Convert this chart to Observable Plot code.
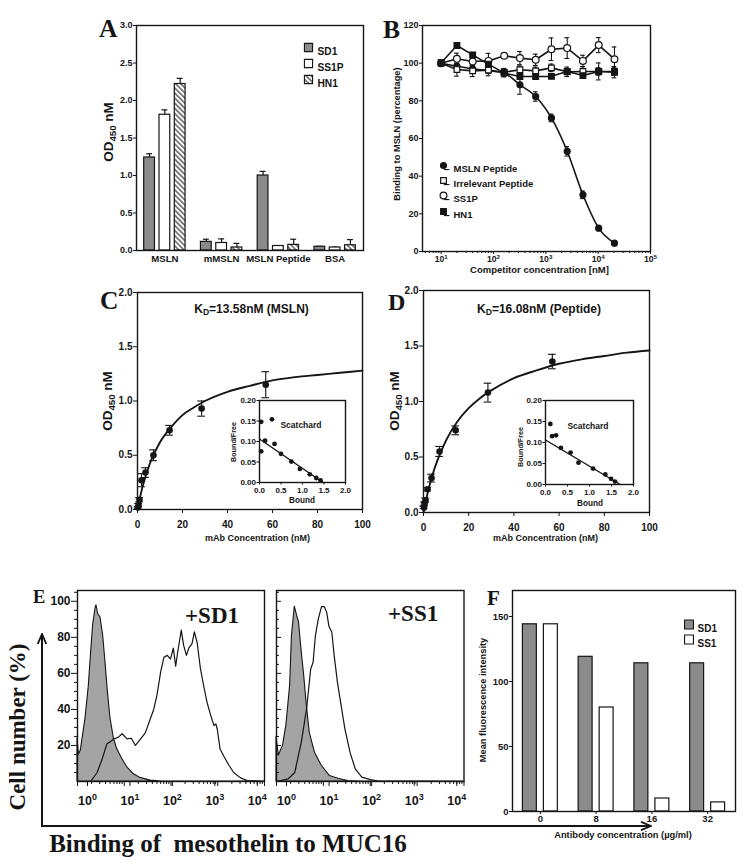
<!DOCTYPE html>
<html><head><meta charset="utf-8">
<script src="https://cdn.jsdelivr.net/npm/d3@7"></script>
<script src="https://cdn.jsdelivr.net/npm/@observablehq/plot@0.6"></script>
<style>
body{margin:0;background:#fff;}
#root{position:relative;width:754px;height:867px;overflow:hidden;background:#fff;}
</style></head><body>
<svg width="0" height="0" style="position:absolute;left:0;top:0">
<defs>
<pattern id="hatch" patternUnits="userSpaceOnUse" width="3.6" height="3.6" patternTransform="rotate(-45)">
<rect width="3.6" height="3.6" fill="#fff"/><line x1="0.9" y1="0" x2="0.9" y2="3.6" stroke="#222" stroke-width="1.1"/>
</pattern>
</defs></svg>
<div id="root"></div>
<script>
// ================= DATA =================
// Panel A
const catsA = ["MSLN", "mMSLN", "MSLN Peptide", "BSA"];
const seriesNamesA = ["SD1", "SS1P", "HN1"];
const sd1A = [1.24, 0.115, 1.00, 0.05];
const sd1AErr = [0.05, 0.035, 0.055, 0.005];
const ss1pA = [1.81, 0.10, 0.06, 0.04];
const ss1pAErr = [0.065, 0.055, 0.005, 0.005];
const hn1A = [2.22, 0.04, 0.075, 0.07];
const hn1AErr = [0.075, 0.055, 0.075, 0.075];
const yTicksA = [0, 0.5, 1.0, 1.5, 2.0, 2.5, 3.0];

// Panel B
const seriesNamesB = ["MSLN Peptide", "Irrelevant Peptide", "SS1P", "HN1"];
const concB = [10, 20, 40, 80, 160, 320, 640, 1280, 2560, 5120, 10240, 20480];
const mslnB = [100, 98.4, 97, 96, 94.7, 88.5, 82.3, 70.9, 53.2, 30.1, 12.4, 4.4];
const mslnBErr = [1, 1, 1, 1, 1.5, 5, 2.5, 2, 2.5, 2, 1, 0.8];
const irrelB = [100, 96.6, 95.9, 96.3, 95.2, 96.5, 95.9, 97.5, 95.4, 95.6, 95.6, 95.6];
const irrelBErr = [1, 3.5, 3, 3, 2, 2, 2, 2, 2.5, 2.5, 2, 2];
const ss1pB = [100, 102.3, 100.9, 101.2, 103.9, 102.7, 101.8, 107.4, 108, 101.2, 109.6, 102.1];
const ss1pBErr = [1, 3, 2, 4, 1, 3.5, 3, 6, 5.5, 3, 4, 6.5];
const hn1B = [100.2, 109.4, 104.4, 99.5, 94.7, 92.9, 92.9, 93, 95.6, 93.4, 95.6, 95.2];
const hn1BErr = [1, 1, 1, 1.5, 2, 1, 1, 1, 1.5, 1.5, 4.5, 3];
const yTicksB = [0, 20, 40, 60, 80, 100, 120];
const xTicksB = [10, 100, 1000, 10000, 100000];

// Panels C and D (mAb concentration, nM)
const concCD = [0.22, 0.45, 0.89, 1.78, 3.56, 7.1, 14.25, 28.5, 57];
const odC = [0.02, 0.04, 0.09, 0.27, 0.34, 0.50, 0.73, 0.93, 1.15];
const odCErr = [0.01, 0.015, 0.02, 0.06, 0.045, 0.05, 0.045, 0.07, 0.12];
const odD = [0.045, 0.08, 0.11, 0.21, 0.31, 0.55, 0.74, 1.08, 1.36];
const odDErr = [0.01, 0.015, 0.02, 0.015, 0.035, 0.045, 0.04, 0.085, 0.065];
const fitX = [0, 1, 2, 4, 6, 8, 10, 15, 20, 25, 30, 40, 50, 60, 70, 80, 90, 100];
const fitC = [0, 0.10, 0.19, 0.33, 0.45, 0.54, 0.62, 0.76, 0.87, 0.94, 1.00, 1.085, 1.14, 1.19, 1.22, 1.24, 1.26, 1.28];
const fitD = [0, 0.10, 0.19, 0.34, 0.46, 0.56, 0.65, 0.82, 0.94, 1.03, 1.10, 1.21, 1.28, 1.34, 1.38, 1.41, 1.44, 1.46];
const yTicksCD = [0, 0.5, 1.0, 1.5, 2.0];
const xTicksCD = [0, 20, 40, 60, 80, 100];
const titleC = "K_{D}=13.58nM (MSLN)";
const titleD = "K_{D}=16.08nM (Peptide)";

// Scatchard insets
const scatBoundC = [0.04, 0.29, 0.13, 0.04, 0.35, 0.50, 0.74, 0.94, 1.17, 1.32, 1.42];
const scatBFC = [0.148, 0.154, 0.102, 0.076, 0.094, 0.070, 0.051, 0.033, 0.020, 0.011, 0.005];
const scatLineBoundC = [0, 1.48];
const scatLineBFC = [0.106, 0];
const scatBoundD = [0.11, 0.15, 0.24, 0.35, 0.57, 0.75, 1.08, 1.36, 1.49, 1.58];
const scatBFD = [0.144, 0.115, 0.117, 0.087, 0.076, 0.052, 0.038, 0.024, 0.0135, 0.007];
const scatLineBoundD = [0, 1.7];
const scatLineBFD = [0.106, 0];
const scatXTicks = [0, 0.5, 1.0, 1.5, 2.0];
const scatYTicks = [0, 0.05, 0.10, 0.15, 0.20];

// Panel E histograms (x = log10 fluorescence, y = % of max)
const ctrlSD1Log = [0, 0.03, 0.07, 0.171, 0.242, 0.292, 0.335, 0.385, 0.406, 0.442, 0.492, 0.549, 0.599, 0.649, 0.706, 0.777, 0.848, 0.955, 1.062, 1.205, 1.348, 1.561, 1.8, 4];
const ctrlSD1Pct = [24, 15, 17, 35, 53, 72, 87, 96, 97.8, 93, 91, 81, 66, 50, 35, 24, 18, 12.6, 8, 4, 2, 0.5, 0, 0];
const sd1Log = [0, 0.28, 0.42, 0.53, 0.63, 0.70, 0.78, 0.87, 0.955, 1.06, 1.15, 1.24, 1.35, 1.45, 1.56, 1.63, 1.70, 1.78, 1.85, 1.92, 1.99, 2.05, 2.10, 2.15, 2.22, 2.27, 2.33, 2.38, 2.45, 2.50, 2.56, 2.63, 2.70, 2.77, 2.85, 2.92, 2.96, 2.99, 3.05, 3.13, 3.24, 3.34, 3.49, 3.63, 4];
const sd1Pct = [0, 0, 5, 12.6, 21, 22, 23.7, 24.5, 26.5, 23.7, 24, 20, 23.7, 27, 35, 40, 48, 61, 69, 70, 68, 74, 64, 73, 84, 75.5, 70, 74, 76.5, 83, 77, 62.6, 53, 44, 36.7, 31, 32, 29, 18, 14, 9, 5, 2, 0.5, 0];
const ctrlSS1Log = [0, 0.05, 0.14, 0.21, 0.29, 0.33, 0.39, 0.44, 0.48, 0.53, 0.59, 0.64, 0.71, 0.82, 0.96, 1.14, 1.32, 1.53, 1.8, 4];
const ctrlSS1Pct = [24.6, 14.4, 20, 31, 53, 81, 97, 92, 88.5, 74, 59, 44, 27, 16, 9, 3, 1.5, 0.3, 0, 0];
const ss1Log = [0, 0.25, 0.39, 0.53, 0.64, 0.73, 0.78, 0.83, 0.89, 0.96, 1.02, 1.07, 1.12, 1.18, 1.23, 1.30, 1.38, 1.46, 1.57, 1.68, 1.82, 2.0, 2.17, 4];
const ss1Pct = [0, 1.5, 5, 22, 40, 62.6, 66, 81, 90, 97, 97, 94, 86, 83, 70, 55, 42, 29, 16, 7, 2.4, 1, 0.2, 0];
const yTicksE = [20, 40, 60, 80, 100];
const xTicksE = [1, 10, 100, 1000, 10000];

// Panel F
const concF = ["0", "8", "16", "32"];
const seriesNamesF = ["SD1", "SS1"];
const sd1F = [144, 119, 114, 114];
const ss1F = [144, 80, 10, 7];
const yTicksF = [0, 50, 100, 150];

// ================= HELPERS =================
const svgNS = "http://www.w3.org/2000/svg";
const root = document.getElementById("root");
const SANS = '"Liberation Sans", Arial, Helvetica, sans-serif';
const SERIF = '"Liberation Serif", "Times New Roman", serif';
const INK = "#151515";
const GRAY = "#8b8b8b";

function st(size) {
  return {fontFamily: SANS, fontWeight: "bold", fontSize: size + "px", background: "transparent", overflow: "visible", color: INK};
}
function rich(el) {
  el.querySelectorAll("text").forEach(t => {
    const s = t.textContent;
    if (!/[_^]\{/.test(s) || t.querySelector("tspan")) return;
    t.textContent = "";
    const re = /([_^])\{([^}]*)\}/g;
    let last = 0, m;
    while ((m = re.exec(s))) {
      if (m.index > last) t.appendChild(document.createTextNode(s.slice(last, m.index)));
      const ts = document.createElementNS(svgNS, "tspan");
      ts.setAttribute("baseline-shift", m[1] === "_" ? "-0.28em" : "0.55em");
      ts.setAttribute("font-size", "72%");
      ts.textContent = m[2];
      t.appendChild(ts);
      last = re.lastIndex;
    }
    if (last < s.length) t.appendChild(document.createTextNode(s.slice(last)));
  });
}
function place(svg, left, top) {
  svg.style.position = "absolute";
  svg.style.left = left + "px";
  svg.style.top = top + "px";
  rich(svg);
  root.appendChild(svg);
}
function logMinor(lo, hi) {
  const out = [];
  for (let k = -1; k < 6; k++) for (let m = 2; m <= 9; m++) {
    const v = m * Math.pow(10, k);
    if (v >= lo && v <= hi) out.push(v);
  }
  return out;
}
const pow = d => "10^{" + Math.round(Math.log10(d)) + "}";
const frame = () => Plot.frame({stroke: INK, strokeWidth: 1.4});

// ================= PANEL A =================
{
  const fills = [GRAY, "white", "url(#hatch)"];
  const vals = [sd1A, ss1pA, hn1A];
  const errs = [sd1AErr, ss1pAErr, hn1AErr];
  const shifts = [-15.3, 0, 15.3];
  const marks = [];
  seriesNamesA.forEach((name, s) => {
    const rows = catsA.map((c, i) => ({cat: c, v: vals[s][i], hi: vals[s][i] + errs[s][i]}));
    marks.push(Plot.ruleX(rows, {x: "cat", y1: "v", y2: "hi", dx: shifts[s], stroke: INK, strokeWidth: 1.2}));
    marks.push(Plot.tickY(rows, {x: "cat", y: "hi", dx: shifts[s], insetLeft: 25.4, insetRight: 25.4, stroke: INK, strokeWidth: 1.2}));
    marks.push(Plot.barY(rows, {x: "cat", y: "v", dx: shifts[s], insetLeft: 23, insetRight: 23, fill: fills[s], stroke: INK, strokeWidth: 1.2}));
    marks.push(Plot.dot([name], {frameAnchor: "top-left", dx: 172, dy: 22 + 16 * s, symbol: "square", r: 4.6, fill: fills[s], stroke: INK, strokeWidth: 1.1}));
    marks.push(Plot.text([name], {frameAnchor: "top-left", dx: 181, dy: 22 + 16 * s, text: d => d, textAnchor: "start", fontSize: 10.2, fontWeight: "bold", fill: INK}));
  });
  const svg = Plot.plot({
    width: 320, height: 290, marginLeft: 76, marginRight: 17, marginTop: 25, marginBottom: 40,
    style: st(9),
    x: {domain: catsA, padding: 0, round: false, label: null},
    y: {domain: [0, 3], label: null},
    marks: [
      ...marks,
      frame(),
      Plot.axisY({ticks: yTicksA, tickFormat: d3.format(".1f"), tickSize: 3, tickPadding: 1, label: null}),
      Plot.axisX({tickSize: 0, tickPadding: 5, fontSize: 9.6, label: null})
    ]
  });
  place(svg, 60, 0);
}

// ================= PANEL B =================
{
  const vals = [mslnB, irrelB, ss1pB, hn1B];
  const errs = [mslnBErr, irrelBErr, ss1pBErr, hn1BErr];
  const symbols = ["circle", "square", "circle", "square"];
  const fills = [INK, "white", "white", INK];
  const radii = [3.0, 3.2, 3.4, 3.2];
  const curves = ["monotone-x", "linear", "linear", "linear"];
  const rowsAll = seriesNamesB.map((n, s) => concB.map((c, i) => ({c, v: vals[s][i], lo: vals[s][i] - errs[s][i], hi: vals[s][i] + errs[s][i]})));
  const marks = [];
  rowsAll.forEach((rows, s) => marks.push(Plot.line(rows, {x: "c", y: "v", stroke: INK, strokeWidth: 1.6, curve: curves[s]})));
  rowsAll.forEach(rows => {
    marks.push(Plot.ruleX(rows, {x: "c", y1: "lo", y2: "hi", stroke: INK, strokeWidth: 1.1}));
    marks.push(Plot.ruleY(rows, {y: "hi", x1: d => d.c / 1.11, x2: d => d.c * 1.11, stroke: INK, strokeWidth: 1.1}));
    marks.push(Plot.ruleY(rows, {y: "lo", x1: d => d.c / 1.11, x2: d => d.c * 1.11, stroke: INK, strokeWidth: 1.1}));
  });
  rowsAll.forEach((rows, s) => marks.push(Plot.dot(rows, {x: "c", y: "v", symbol: symbols[s], r: radii[s], fill: fills[s], stroke: INK, strokeWidth: 1.2})));
  seriesNamesB.forEach((name, s) => {
    const dy = [140, 155, 170, 186][s];
    marks.push(Plot.text(["\u2013"], {frameAnchor: "top-left", dx: 21, dy, text: d => d, fontSize: 11, fill: INK}));
    marks.push(Plot.dot([name], {frameAnchor: "top-left", dx: 21, dy, symbol: symbols[s], r: radii[s], fill: fills[s], stroke: INK, strokeWidth: 1.2}));
    marks.push(Plot.text([name], {frameAnchor: "top-left", dx: 31, dy, text: d => d, textAnchor: "start", fontSize: 9.5, fontWeight: "bold", fill: INK}));
  });
  const svg = Plot.plot({
    width: 300, height: 290, marginLeft: 42, marginRight: 30, marginTop: 25, marginBottom: 39,
    style: st(9),
    x: {type: "log", domain: [4.4, 1e5], label: null},
    y: {domain: [0, 120], label: null},
    marks: [
      ...marks,
      frame(),
      Plot.axisY({ticks: yTicksB, tickSize: 3, tickPadding: 1, label: null}),
      Plot.axisX({ticks: logMinor(4.4, 1e5), tickSize: 2, tickFormat: () => "", label: null}),
      Plot.axisX({ticks: xTicksB, tickSize: 3, tickPadding: 1, fontSize: 8.6, tickFormat: pow, label: null})
    ]
  });
  place(svg, 380, 0);
}

// ================= PANELS C & D =================
function bindingPanel(od, err, fit, left, top, w, h, m) {
  const rows = concCD.map((c, i) => ({c, v: od[i], lo: od[i] - err[i], hi: od[i] + err[i]}));
  const fitRows = fitX.map((x, i) => ({x, y: fit[i]}));
  const svg = Plot.plot({
    width: w, height: h, marginLeft: m[0], marginRight: m[1], marginTop: m[2], marginBottom: m[3],
    style: st(10),
    x: {domain: [0, 100], label: null},
    y: {domain: [0, 2], label: null},
    marks: [
      Plot.line(fitRows, {x: "x", y: "y", stroke: INK, strokeWidth: 1.9, curve: "monotone-x"}),
      Plot.ruleX(rows, {x: "c", y1: "lo", y2: "hi", stroke: INK, strokeWidth: 1.1}),
      Plot.ruleY(rows, {y: "hi", x1: d => d.c - 1.7, x2: d => d.c + 1.7, stroke: INK, strokeWidth: 1.1}),
      Plot.ruleY(rows, {y: "lo", x1: d => d.c - 1.7, x2: d => d.c + 1.7, stroke: INK, strokeWidth: 1.1}),
      Plot.dot(rows, {x: "c", y: "v", r: 3.3, fill: INK}),
      frame(),
      Plot.axisY({ticks: yTicksCD, tickFormat: d3.format(".1f"), tickSize: 4, tickPadding: 1, label: null}),
      Plot.axisX({ticks: xTicksCD, tickSize: 4, tickPadding: 7, label: null})
    ]
  });
  place(svg, left, top);
}
bindingPanel(odC, odCErr, fitC, 60, 280, 320, 265, [77, 18, 12, 36]);
bindingPanel(odD, odDErr, fitD, 380, 280, 300, 270, [43, 31, 10, 38]);

function scatchard(bound, bf, lineB, lineBF, left, top, w, h, m) {
  const pts = bound.map((b, i) => ({b, f: bf[i]}));
  const ln = lineB.map((b, i) => ({b, f: lineBF[i]}));
  const svg = Plot.plot({
    width: w, height: h, marginLeft: m[0], marginRight: m[1], marginTop: m[2], marginBottom: m[3],
    style: st(8),
    x: {domain: [0, 2], label: null},
    y: {domain: [0, 0.2], label: null},
    marks: [
      Plot.frame({fill: "white"}),
      Plot.line(ln, {x: "b", y: "f", stroke: INK, strokeWidth: 1.4}),
      Plot.dot(pts, {x: "b", y: "f", r: 2.4, fill: INK}),
      frame(),
      Plot.axisY({ticks: scatYTicks, tickFormat: d3.format(".2f"), tickSize: 2.5, tickPadding: 1, label: null}),
      Plot.axisX({ticks: scatXTicks, tickFormat: d3.format(".1f"), tickSize: 2.5, tickPadding: 2, label: null})
    ]
  });
  place(svg, left, top);
}
scatchard(scatBoundC, scatBFC, scatLineBoundC, scatLineBFC, 222, 392, 128, 118, [37, 5, 8, 28]);
scatchard(scatBoundD, scatBFD, scatLineBoundD, scatLineBFD, 508, 392, 130, 120, [37, 5, 8, 28]);

// ================= PANEL E =================
function histogram(ctrlLog, ctrlPct, sampleLog, samplePct, left, width, m, withLabels) {
  const ctrl = ctrlLog.map((x, i) => ({x: Math.pow(10, x), y: ctrlPct[i]}));
  const samp = sampleLog.map((x, i) => ({x: Math.pow(10, x), y: samplePct[i]}));
  const minorY = d3.range(5, 106, 5).filter(v => v % 20 !== 0);
  const labelAxes = xTicksE.map((v, k) =>
    Plot.axisX({ticks: [v], tickSize: 5, tickPadding: 10, fontSize: 12.5, dx: 10 - 4.3 * k, tickFormat: pow, label: null}));
  const svg = Plot.plot({
    width, height: 235, marginLeft: m[0], marginRight: m[1], marginTop: 10, marginBottom: 34,
    style: st(12),
    x: {type: "log", domain: [1, 1e4], label: null},
    y: {domain: [0, 106], label: null},
    marks: [
      Plot.areaY(ctrl, {x: "x", y: "y", fill: "#a4a4a4", stroke: INK, strokeWidth: 1.1}),
      Plot.line(samp, {x: "x", y: "y", stroke: INK, strokeWidth: 1.2}),
      frame(),
      withLabels
        ? Plot.axisY({ticks: yTicksE, tickSize: 6, tickPadding: 1, fontSize: 12, label: null})
        : Plot.axisY({ticks: yTicksE, tickSize: -5, tickFormat: () => "", label: null}),
      Plot.axisY({ticks: minorY, tickSize: withLabels ? 3 : -3, tickFormat: () => "", label: null}),
      Plot.axisX({ticks: logMinor(1, 1e4), tickSize: 3, tickFormat: () => "", label: null}),
      Plot.axisX({ticks: xTicksE, tickSize: 5, tickFormat: () => "", label: null}),
      ...labelAxes
    ]
  });
  place(svg, left, 580);
}
histogram(ctrlSD1Log, ctrlSD1Pct, sd1Log, sd1Pct, 40, 230, [37, 6], true);
histogram(ctrlSS1Log, ctrlSS1Pct, ss1Log, ss1Pct, 270, 200, [6, 6.5], false);

// ================= PANEL F =================
{
  const vals = [sd1F, ss1F];
  const fills = [GRAY, "white"];
  const shifts = [-10.5, 10.5];
  const marks = [];
  seriesNamesF.forEach((name, s) => {
    const rows = concF.map((c, i) => ({c, v: vals[s][i]}));
    marks.push(Plot.barY(rows, {x: "c", y: "v", dx: shifts[s], insetLeft: 20.9, insetRight: 20.9, fill: fills[s], stroke: INK, strokeWidth: 1.2}));
    marks.push(Plot.dot([name], {frameAnchor: "top-left", dx: 176.5, dy: 34 + 15 * s, symbol: "square", r: 5, fill: fills[s], stroke: INK, strokeWidth: 1.1}));
    marks.push(Plot.text([name], {frameAnchor: "top-left", dx: 185, dy: 34 + 15 * s, text: d => d, textAnchor: "start", fontSize: 10, fontWeight: "bold", fill: INK}));
  });
  const svg = Plot.plot({
    width: 280, height: 270, marginLeft: 42, marginRight: 15, marginTop: 10, marginBottom: 39,
    style: st(9.5),
    x: {domain: concF, padding: 0, round: false, label: null},
    y: {domain: [0, 170], label: null},
    marks: [
      ...marks,
      frame(),
      Plot.axisY({ticks: yTicksF, tickSize: 3, tickPadding: 1, label: null}),
      Plot.axisX({tickSize: 3, tickPadding: 1, label: null})
    ]
  });
  place(svg, 470, 580);
}

// ================= OVERLAY: panel letters, titles, axis titles, arrows =================
{
  const ov = document.createElementNS(svgNS, "svg");
  ov.setAttribute("width", 754);
  ov.setAttribute("height", 867);
  ov.style.cssText = "position:absolute;left:0;top:0;overflow:visible;pointer-events:none";
  ov.innerHTML = '<defs><marker id="arr" viewBox="0 0 12 10" refX="11" refY="5" markerWidth="12" markerHeight="10" markerUnits="userSpaceOnUse" orient="auto"><path d="M1,0.8 L11,5 L1,9.2" fill="none" stroke="' + INK + '" stroke-width="1.8"/></marker></defs>' +
    '<line x1="42" y1="826" x2="42" y2="634" stroke="' + INK + '" stroke-width="2" marker-end="url(#arr)"/>' +
    '<line x1="41" y1="826" x2="651" y2="826" stroke="' + INK + '" stroke-width="2" marker-end="url(#arr)"/>';
  const items = [
    {t: "A", x: 99, y: 37, size: 25.5, serif: true},
    {t: "B", x: 383, y: 38, size: 25.5, serif: true},
    {t: "C", x: 100, y: 309, size: 25.5, serif: true},
    {t: "D", x: 388, y: 310, size: 24, serif: true},
    {t: "E", x: 33, y: 603, size: 18.5, serif: true},
    {t: "F", x: 487, y: 605, size: 21, serif: true},
    {t: "OD_{450} nM", x: 113, y: 132, size: 13.5, rot: true},
    {t: "Binding to MSLN (percentage)", x: 400, y: 134, size: 9.3, rot: true},
    {t: "Competitor concentration [nM]", x: 539.5, y: 273, size: 9.5, mid: true},
    {t: titleC, x: 251.5, y: 313, size: 12, mid: true},
    {t: "OD_{450} nM", x: 112, y: 401, size: 13.5, rot: true},
    {t: "mAb Concentration (nM)", x: 257.5, y: 540.5, size: 9, mid: true},
    {t: "Scatchard", x: 301, y: 428, size: 8.5, mid: true},
    {t: "Bound/Free", x: 236, y: 442, size: 7.2, rot: true},
    {t: "Bound", x: 302, y: 503, size: 8.2, mid: true},
    {t: titleD, x: 539, y: 313, size: 12, mid: true},
    {t: "OD_{450} nM", x: 399, y: 401, size: 13.5, rot: true},
    {t: "mAb Concentration (nM)", x: 545.5, y: 541, size: 9, mid: true},
    {t: "Scatchard", x: 588, y: 429, size: 8.5, mid: true},
    {t: "Bound/Free", x: 523, y: 447, size: 7.2, rot: true},
    {t: "Bound", x: 590, y: 506, size: 8.2, mid: true},
    {t: "+SD1", x: 185, y: 623, size: 23, serif: true},
    {t: "+SS1", x: 388, y: 621, size: 23, serif: true},
    {t: "Cell number (%)", x: 25, y: 727, size: 23, serif: true, rot: true},
    {t: "Binding of  mesothelin to MUC16", x: 228, y: 852, size: 25, serif: true, mid: true},
    {t: "Mean fluorescence intensity", x: 486, y: 700, size: 9.3, rot: true},
    {t: "Antibody concentration (\u00b5g/ml)", x: 623, y: 838, size: 9.3, mid: true}
  ];
  items.forEach(it => {
    const t = document.createElementNS(svgNS, "text");
    t.textContent = it.t;
    t.setAttribute("font-family", it.serif ? SERIF : SANS);
    t.setAttribute("font-weight", "bold");
    t.setAttribute("font-size", it.size);
    t.setAttribute("fill", INK);
    t.style.whiteSpace = "pre";
    if (it.rot) {
      t.setAttribute("transform", "translate(" + it.x + "," + it.y + ") rotate(-90)");
      t.setAttribute("text-anchor", "middle");
    } else {
      t.setAttribute("x", it.x);
      t.setAttribute("y", it.y);
      t.setAttribute("text-anchor", it.mid ? "middle" : "start");
    }
    ov.appendChild(t);
  });
  rich(ov);
  root.appendChild(ov);
}
</script></body></html>
